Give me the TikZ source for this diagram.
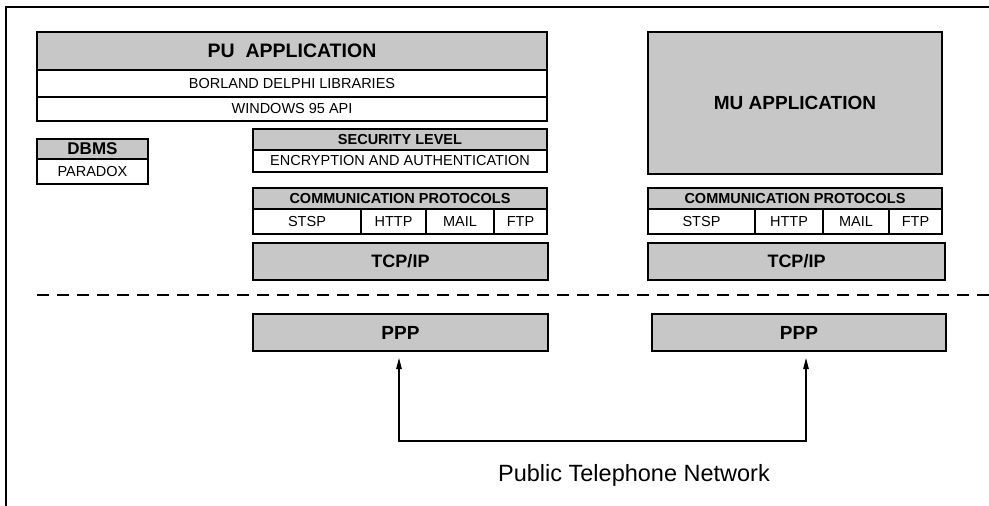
\documentclass[tikz,border=0pt]{standalone}
\usepackage{fontspec}
\setmainfont{Liberation Sans}
\usetikzlibrary{arrows.meta,positioning}

\begin{document}
\begin{tikzpicture}[
    x=1pt, y=-1pt,
    box/.style={draw, line width=1.3pt, outer sep=0pt, inner sep=0pt, anchor=north west, align=center},
    shade/.style={box, fill=black!22, font=\bfseries\fontsize{14.5}{16}\selectfont},
    row/.style={box, fill=white, font=\fontsize{14.5}{16}\selectfont},
    >={Triangle[length=11pt, width=5.5pt]},
]
    \useasboundingbox (0,0) rectangle (989,506);

    % 外框 (只有左边和上边)
    \draw[line width=1.5pt] (6,506) -- (6,7) -- (989,7);

    % 1. 左侧: PU 应用及其下层
    \node[shade, minimum width=510, minimum height=38, font=\bfseries\fontsize{19.5}{21}\selectfont] (pu) at (37,32) {PU\ \ APPLICATION};
    \node[row, minimum width=510, minimum height=27, below=0pt of pu] (delphi) {BORLAND DELPHI LIBRARIES};
    \node[row, minimum width=510, minimum height=24, below=0pt of delphi] (win) {WINDOWS 95 API};

    % 数据库
    \node[shade, minimum width=111, minimum height=20, font=\bfseries\fontsize{17}{18}\selectfont] (dbms) at (37,139) {DBMS};
    \node[row, minimum width=111, minimum height=25, below=0pt of dbms] (paradox) {PARADOX};

    % 安全层
    \node[shade, minimum width=294, minimum height=21] (sec) at (253,129) {SECURITY LEVEL};
    \node[row, minimum width=294, minimum height=22, below=0pt of sec] (enc) {ENCRYPTION AND AUTHENTICATION};

    % 通信协议 (左)
    \node[shade, minimum width=294, minimum height=21] (commL) at (253,188) {COMMUNICATION PROTOCOLS};
    \node[row, minimum width=108, minimum height=25] (stspL) at (commL.south west) {STSP};
    \node[row, minimum width=65, minimum height=25, right=0pt of stspL] (httpL) {HTTP};
    \node[row, minimum width=68, minimum height=25, right=0pt of httpL] (mailL) {MAIL};
    \node[row, minimum width=53, minimum height=25, right=0pt of mailL] (ftpL) {FTP};

    \node[shade, minimum width=295, minimum height=37, font=\bfseries\fontsize{18}{20}\selectfont] (tcpL) at (253,243) {TCP/IP};

    % 2. 右侧: MU 应用
    \node[shade, minimum width=294, minimum height=142, font=\bfseries\fontsize{19}{21}\selectfont] (mu) at (648,32) {MU APPLICATION};

    % 通信协议 (右)
    \node[shade, minimum width=294, minimum height=21] (commR) at (648,188) {COMMUNICATION PROTOCOLS};
    \node[row, minimum width=107, minimum height=25] (stspR) at (commR.south west) {STSP};
    \node[row, minimum width=68, minimum height=25, right=0pt of stspR] (httpR) {HTTP};
    \node[row, minimum width=66, minimum height=25, right=0pt of httpR] (mailR) {MAIL};
    \node[row, minimum width=53, minimum height=25, right=0pt of mailR] (ftpR) {FTP};

    \node[shade, minimum width=297, minimum height=37, font=\bfseries\fontsize{18}{20}\selectfont] (tcpR) at (648,243) {TCP/IP};

    % 3. 虚线分隔
    \draw[line width=1.8pt, dash pattern=on 12pt off 8pt] (37,295) -- (989,295);

    % PPP 层
    \node[shade, minimum width=295, minimum height=37, font=\bfseries\fontsize{19}{21}\selectfont] (pppL) at (253,314) {PPP};
    \node[shade, minimum width=294, minimum height=37, font=\bfseries\fontsize{19}{21}\selectfont] (pppR) at (652,314) {PPP};

    % 4. 电话网连接
    \coordinate (netL) at (399,441);
    \coordinate (netR) at (806,441);
    \draw[<->, line width=1.1pt, shorten <=7pt, shorten >=7pt] (pppL.south -| netL) -- (netL) -- (netR) -- (pppR.south -| netR);

    \node[font=\fontsize{23.5}{26}\selectfont] (net) at (634,475) {Public Telephone Network};

\end{tikzpicture}
\end{document}
